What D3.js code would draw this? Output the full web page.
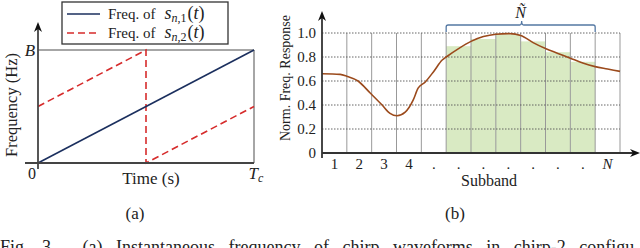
<!DOCTYPE html>
<html>
<head>
<meta charset="utf-8">
<script src="https://cdn.jsdelivr.net/npm/d3@7"></script>
<style>
  body{margin:0;background:#fff;}
  svg text{font-family:"Liberation Serif","DejaVu Serif",serif;fill:#222;}
</style>
</head>
<body>
<svg id="chart" width="640" height="248"></svg>
<script>
// ---- panel (a) data: chirp instantaneous frequency (normalised time / freq)
let chirp1=[[0,0],[1,1]];
let chirp2=[[0,0.5],[0.5,1],[0.5,0],[1,0.5]];

// ---- panel (b) data
let subbandLabels=["1","2","3","4",".",".",".",".",".",".",".","N"];
let yTicks=[0,0.2,0.4,0.6,0.8,1.0];
let respX=[0,0.73,1,1.45,1.94,2.42,2.74,3.02,3.35,3.67,3.87,4.15,4.5,4.84,5,5.5,6,6.5,7,7.5,8,8.5,9,9.5,10,10.5,11,11.5,12];
let respY=[0.66,0.655,0.64,0.6,0.5,0.4,0.33,0.31,0.34,0.44,0.54,0.59,0.68,0.775,0.8,0.87,0.93,0.97,0.99,0.995,0.98,0.92,0.87,0.83,0.79,0.75,0.72,0.7,0.68];
let selBands=[5,6,7,8,9,10];
let selValues=[0.89,0.95,0.99,0.93,0.84,0.76];

let svg=d3.select("#chart");

// ================= panel (a) =================
let xa=d3.scaleLinear().domain([0,1]).range([38,254]);
let ya=d3.scaleLinear().domain([0,1]).range([163,50]);
let ga=svg.append("g");

// frame at B and Tc
ga.append("line").attr("x1",xa(0)).attr("x2",xa(1)).attr("y1",ya(1)).attr("y2",ya(1))
  .attr("stroke","#888").attr("stroke-width",1.5);
ga.append("line").attr("x1",xa(1)).attr("x2",xa(1)).attr("y1",ya(1)).attr("y2",ya(0))
  .attr("stroke","#888").attr("stroke-width",1.5);

let la=d3.line().x(function(d){return xa(d[0])}).y(function(d){return ya(d[1])});
ga.append("path").datum(chirp2).attr("d",la).attr("fill","none")
  .attr("stroke","#d62b2b").attr("stroke-width",1.6).attr("stroke-dasharray","7,4");
ga.append("path").datum(chirp1).attr("d",la).attr("fill","none")
  .attr("stroke","#1b2f5e").attr("stroke-width",1.6);

// axes
ga.append("line").attr("x1",25).attr("x2",xa(1)).attr("y1",ya(0)).attr("y2",ya(0))
  .attr("stroke","#444").attr("stroke-width",1.8);
ga.append("line").attr("x1",xa(0)).attr("x2",xa(0)).attr("y1",ya(0)+6).attr("y2",27)
  .attr("stroke","#444").attr("stroke-width",1.8);
ga.append("path").attr("d","M"+xa(0)+",22 L"+(xa(0)-4)+",32 L"+xa(0)+",29 L"+(xa(0)+4)+",32 Z")
  .attr("fill","#111");

ga.append("text").attr("x",30).attr("y",ya(1)+6).attr("text-anchor","middle")
  .attr("font-size",17).attr("font-style","italic").text("B");
ga.append("text").attr("x",32).attr("y",ya(0)+16).attr("text-anchor","middle")
  .attr("font-size",16).text("0");
let tc=ga.append("text").attr("x",xa(1)+2).attr("y",ya(0)+16).attr("text-anchor","middle")
  .attr("font-size",17).attr("font-style","italic");
tc.append("tspan").text("T");
tc.append("tspan").attr("font-size",12).attr("dy",3).text("c");
ga.append("text").attr("x",151).attr("y",184).attr("text-anchor","middle")
  .attr("font-size",17).text("Time (s)");
ga.append("text").attr("transform","translate(17,105) rotate(-90)").attr("text-anchor","middle")
  .attr("font-size",16.5).text("Frequency (Hz)");

// legend
let leg=ga.append("g");
leg.append("rect").attr("x",62).attr("y",2).attr("width",166).attr("height",42)
  .attr("fill","#fff").attr("stroke","#333").attr("stroke-width",1.3);
[["#1b2f5e",null,"1",14],["#d62b2b","7,4","2",33]].forEach(function(d){
  leg.append("line").attr("x1",67).attr("x2",100).attr("y1",d[3]).attr("y2",d[3])
    .attr("stroke",d[0]).attr("stroke-width",1.6).attr("stroke-dasharray",d[1]);
  let t=leg.append("text").attr("x",108).attr("y",d[3]+5).attr("font-size",15);
  t.append("tspan").text("Freq. of");
  t.append("tspan").attr("font-style","italic").attr("font-size",18).attr("dx",9).text("s");
  t.append("tspan").attr("font-style","italic").attr("font-size",12).attr("dy",3).text("n");
  t.append("tspan").attr("font-size",12).text(","+d[2]);
  t.append("tspan").attr("font-size",18).attr("dy",-3).attr("dx",1).text("(");
  t.append("tspan").attr("font-size",18).attr("font-style","italic").text("t");
  t.append("tspan").attr("font-size",18).text(")");
});

svg.append("text").attr("x",135).attr("y",219).attr("text-anchor","middle")
  .attr("font-size",17).text("(a)");

// ================= panel (b) =================
let xb=d3.scaleLinear().domain([0,12]).range([322,620]);
let yb=d3.scaleLinear().domain([0,1]).range([153,33]);
let gb=svg.append("g");

// selected subbands
gb.selectAll(".sel").data(selBands).enter().append("rect")
  .attr("x",function(d){return xb(d)})
  .attr("width",xb(1)-xb(0))
  .attr("y",function(d,i){return yb(selValues[i])})
  .attr("height",function(d,i){return yb(0)-yb(selValues[i])})
  .attr("fill","#d9eac3");

// grid
gb.selectAll(".vg").data(d3.range(1,13)).enter().append("line")
  .attr("x1",function(d){return xb(d)}).attr("x2",function(d){return xb(d)})
  .attr("y1",yb(1)).attr("y2",yb(0))
  .attr("stroke","#999").attr("stroke-width",1);
gb.selectAll(".hg").data(yTicks.slice(1)).enter().append("line")
  .attr("x1",xb(0)).attr("x2",xb(12))
  .attr("y1",function(d){return yb(d)}).attr("y2",function(d){return yb(d)})
  .attr("stroke","#555").attr("stroke-width",0.9).attr("stroke-dasharray","1.5,1.5");

// response curve
let lb=d3.line().x(function(d){return xb(d)}).y(function(d,i){return yb(respY[i])})
  .curve(d3.curveMonotoneX);
gb.append("path").datum(respX).attr("d",lb).attr("fill","none")
  .attr("stroke","#9b4a1c").attr("stroke-width",1.6);

// axes
gb.append("line").attr("x1",xb(0)).attr("x2",634).attr("y1",yb(0)).attr("y2",yb(0))
  .attr("stroke","#333").attr("stroke-width",1.8);
gb.append("path").attr("d","M640,"+yb(0)+" L630,"+(yb(0)-4)+" L633,"+yb(0)+" L630,"+(yb(0)+4)+" Z")
  .attr("fill","#111");
gb.append("line").attr("x1",xb(0)).attr("x2",xb(0)).attr("y1",yb(0)+5).attr("y2",17)
  .attr("stroke","#333").attr("stroke-width",1.8);
gb.append("path").attr("d","M"+xb(0)+",11 L"+(xb(0)-4)+",21 L"+xb(0)+",18 L"+(xb(0)+4)+",21 Z")
  .attr("fill","#111");

gb.selectAll(".yl").data(yTicks).enter().append("text")
  .attr("x",316).attr("y",function(d){return yb(d)+5})
  .attr("text-anchor","end").attr("font-size",15)
  .text(function(d){return d===0?"0":d3.format(".1f")(d)});
gb.selectAll(".xl").data(subbandLabels).enter().append("text")
  .attr("x",function(d,i){return xb(i+0.5)}).attr("y",169)
  .attr("text-anchor","middle").attr("font-size",15)
  .attr("font-style",function(d){return d==="N"?"italic":null})
  .text(function(d){return d});
gb.append("text").attr("x",489).attr("y",186).attr("text-anchor","middle")
  .attr("font-size",16).text("Subband");
gb.append("text").attr("transform","translate(290,78) rotate(-90)").attr("text-anchor","middle")
  .attr("font-size",14).text("Norm. Freq. Response");

// brace over selected subbands
let bx0=xb(5),bx1=xb(11),bc=(bx0+bx1)/2+1;
gb.append("path")
  .attr("d","M"+bx0+",32 L"+bx0+",27 Q"+bx0+",25 "+(bx0+2)+",25 L"+(bc-2)+",25 Q"+bc+",25 "+bc+",21 Q"+bc+",25 "+(bc+2)+",25 L"+(bx1-2)+",25 Q"+bx1+",25 "+bx1+",27 L"+bx1+",32")
  .attr("fill","none").attr("stroke","#5478a3").attr("stroke-width",1.3);
gb.append("text").attr("x",bc-1).attr("y",18).attr("text-anchor","middle")
  .attr("font-size",16).attr("font-style","italic").text("\u00D1");

svg.append("text").attr("x",455).attr("y",219).attr("text-anchor","middle")
  .attr("font-size",17).text("(b)");

// caption (cut at the bottom edge)
svg.append("text").attr("x",0).attr("y",253).attr("font-size",18)
  .attr("xml:space","preserve").attr("word-spacing",9)
  .text("Fig. 3.  (a) Instantaneous frequency of chirp waveforms in chirp-2 configu");
</script>
</body>
</html>
